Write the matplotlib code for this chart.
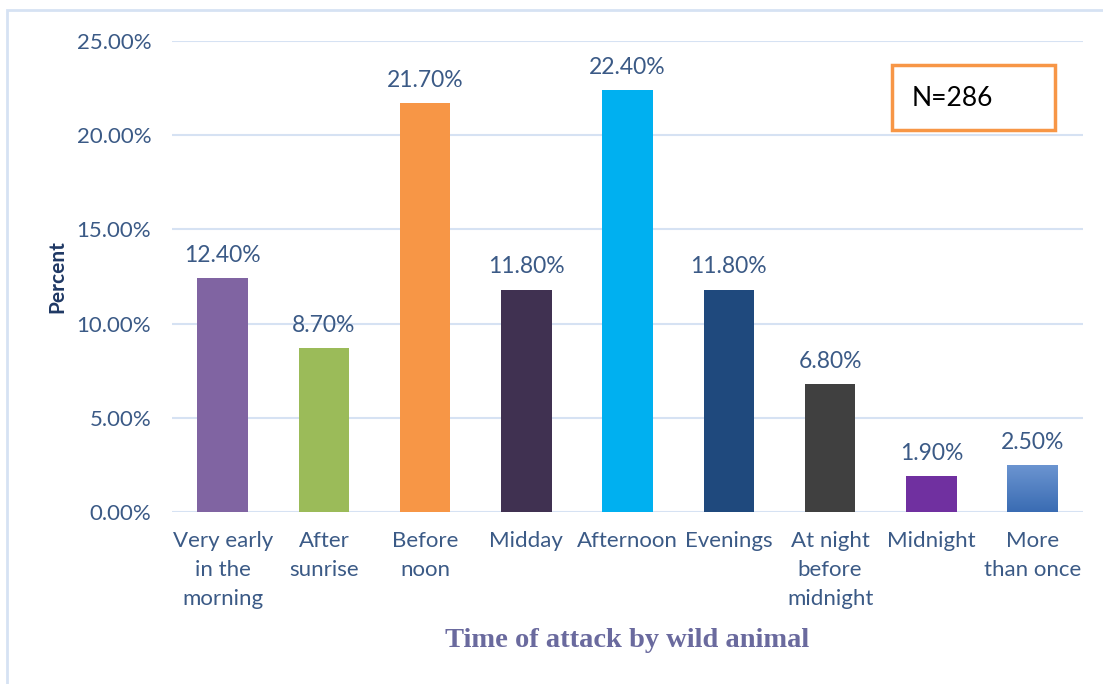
import matplotlib
matplotlib.use("Agg")
import matplotlib.pyplot as plt
from matplotlib.patches import Rectangle
from matplotlib.colors import LinearSegmentedColormap
import numpy as np

categories = ["Very early\nin the\nmorning", "After\nsunrise", "Before\nnoon", "Midday",
              "Afternoon", "Evenings", "At night\nbefore\nmidnight", "Midnight",
              "More\nthan once"]
percents = [12.40, 8.70, 21.70, 11.80, 22.40, 11.80, 6.80, 1.90, 2.50]
bar_colors = ["#8064A2", "#9BBB59", "#F79646", "#403151", "#00B0F0",
              "#1F497D", "#404040", "#7030A0", "#4F81BD"]
y_ticks = [0, 5, 10, 15, 20, 25]

plt.rcParams["font.family"] = ["Lato", "DejaVu Sans"]
text_col = "#3B5A86"

fig = plt.figure(figsize=(11.03, 6.84), dpi=100)
ax = fig.add_axes([0.156, 0.2515, 0.826, 0.6885])

x = np.arange(len(categories))
bars = ax.bar(x, percents, width=0.5, color=bar_colors, zorder=3)

# last bar gets a vertical blue gradient fill (lighter at the top)
last = bars[-1]
last.set_facecolor("none")
bx, by = last.get_x(), last.get_y()
bw, bh = last.get_width(), last.get_height()
grad = np.linspace(0, 1, 100).reshape(-1, 1)
cmap = LinearSegmentedColormap.from_list("blu", ["#3A6CB3", "#6C95D1"])
im = ax.imshow(grad, extent=[bx, bx + bw, by, by + bh], cmap=cmap, aspect="auto",
               zorder=3, origin="lower")
im.set_clip_path(last)

for xi, v in zip(x, percents):
    ax.text(xi, v + 0.65, f"{v:.2f}%", ha="center", va="bottom",
            fontsize=16.5, color=text_col)

ax.set_xlim(-0.5, len(categories) - 0.5)
ax.set_ylim(0, 25)
ax.set_yticks(y_ticks)
ax.set_yticklabels([f"{t:.2f}%" for t in y_ticks], fontsize=16, color=text_col)
ax.set_xticks(x)
ax.set_xticklabels(categories, fontsize=16, color=text_col, linespacing=1.55, va="top")
ax.tick_params(axis="both", length=0)
ax.tick_params(axis="y", pad=15)
ax.tick_params(axis="x", pad=14)
ax.grid(axis="y", color="#D6E2F3", linewidth=1.5, zorder=0)
for s in ax.spines.values():
    s.set_visible(False)

ax.set_ylabel("Percent", fontsize=15, fontweight="bold", color="#1F3864", labelpad=7)
ax.set_xlabel("Time of attack by wild animal", fontsize=20.5, fontweight="bold",
              color="#6A6A9E", family=["Liberation Serif", "DejaVu Serif"], labelpad=14)

# outer chart border
fig.patches.append(Rectangle((7 / 1103, -0.05), 1.2, 1 - 10 / 684 + 0.05,
                             transform=fig.transFigure, fill=False,
                             edgecolor="#D6E2F3", linewidth=2, zorder=0))

# sample size annotation box
fig.patches.append(Rectangle((892 / 1103, 1 - 130 / 684), 163 / 1103, 65 / 684,
                             transform=fig.transFigure, facecolor="white",
                             edgecolor="#F79646", linewidth=2.5, zorder=5))
fig.text(912 / 1103, 1 - 98 / 684, "N=286", fontsize=19, color="black",
         ha="left", va="center", zorder=6)

fig.savefig("out.png", dpi=100)
